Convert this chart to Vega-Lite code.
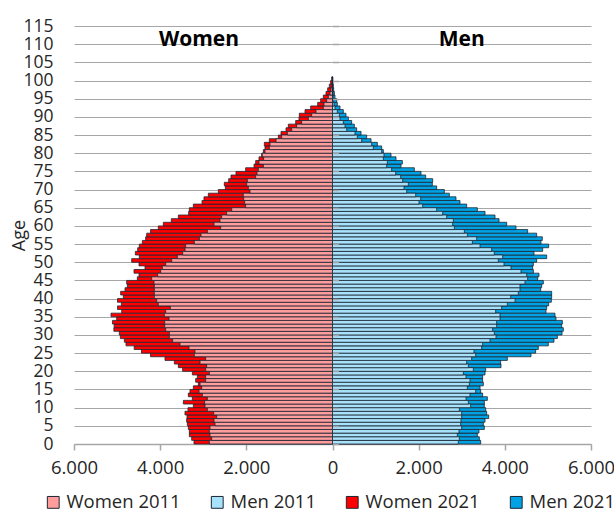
{
 "$schema": "https://vega.github.io/schema/vega-lite/v6.json",
 "width": 517,
 "height": 418,
 "autosize": {"type": "none"},
 "padding": {"left": 74, "top": 26, "right": 23, "bottom": 67},
 "background": "white",
 "config": {
  "view": {"stroke": null},
  "font": "Open Sans",
  "axisY": {"grid": true, "gridColor": "#A6A6A6", "gridWidth": 1.2, "domain": false, "ticks": false, "labelPadding": 21, "labelFontSize": 17.5, "labelColor": "#262626", "labelOverlap": false, "titleFontSize": 18, "titleFontWeight": "normal", "titleColor": "#262626", "titlePadding": -6},
  "axisX": {"grid": false, "domainColor": "#A6A6A6", "domainWidth": 1.5, "tickColor": "#A6A6A6", "tickWidth": 1.5, "tickSize": 6, "labelPadding": 8, "labelFontSize": 18.5, "labelColor": "#262626", "labelFlush": false, "labelOverlap": false}
 },
 "datasets": {
  "pop": [
{"age":0,"series":"Women 2011","value":-2859},{"age":0,"series":"Men 2011","value":2920},{"age":0,"series":"Women 2021","value":-3215},{"age":0,"series":"Men 2021","value":3439},
{"age":1,"series":"Women 2011","value":-2805},{"age":1,"series":"Men 2011","value":2944},{"age":1,"series":"Women 2021","value":-3269},{"age":1,"series":"Men 2021","value":3408},
{"age":2,"series":"Women 2011","value":-2843},{"age":2,"series":"Men 2011","value":2897},{"age":2,"series":"Women 2021","value":-3323},{"age":2,"series":"Men 2021","value":3362},
{"age":3,"series":"Women 2011","value":-2859},{"age":3,"series":"Men 2011","value":2936},{"age":3,"series":"Women 2021","value":-3323},{"age":3,"series":"Men 2021","value":3400},
{"age":4,"series":"Women 2011","value":-2843},{"age":4,"series":"Men 2011","value":2998},{"age":4,"series":"Women 2021","value":-3346},{"age":4,"series":"Men 2021","value":3524},
{"age":5,"series":"Women 2011","value":-2727},{"age":5,"series":"Men 2011","value":2975},{"age":5,"series":"Women 2021","value":-3369},{"age":5,"series":"Men 2021","value":3501},
{"age":6,"series":"Women 2011","value":-2750},{"age":6,"series":"Men 2011","value":2982},{"age":6,"series":"Women 2021","value":-3385},{"age":6,"series":"Men 2021","value":3540},
{"age":7,"series":"Women 2011","value":-2689},{"age":7,"series":"Men 2011","value":2998},{"age":7,"series":"Women 2021","value":-3377},{"age":7,"series":"Men 2021","value":3625},
{"age":8,"series":"Women 2011","value":-2758},{"age":8,"series":"Men 2011","value":2998},{"age":8,"series":"Women 2021","value":-3424},{"age":8,"series":"Men 2021","value":3578},
{"age":9,"series":"Women 2011","value":-2905},{"age":9,"series":"Men 2011","value":2944},{"age":9,"series":"Women 2021","value":-3354},{"age":9,"series":"Men 2021","value":3555},
{"age":10,"series":"Women 2011","value":-2959},{"age":10,"series":"Men 2011","value":3207},{"age":10,"series":"Women 2021","value":-3230},{"age":10,"series":"Men 2021","value":3524},
{"age":11,"series":"Women 2011","value":-2967},{"age":11,"series":"Men 2011","value":3153},{"age":11,"series":"Women 2021","value":-3462},{"age":11,"series":"Men 2021","value":3524},
{"age":12,"series":"Women 2011","value":-2905},{"age":12,"series":"Men 2011","value":3099},{"age":12,"series":"Women 2021","value":-3253},{"age":12,"series":"Men 2021","value":3594},
{"age":13,"series":"Women 2011","value":-3021},{"age":13,"series":"Men 2011","value":3191},{"age":13,"series":"Women 2021","value":-3346},{"age":13,"series":"Men 2021","value":3485},
{"age":14,"series":"Women 2011","value":-3098},{"age":14,"series":"Men 2011","value":3323},{"age":14,"series":"Women 2021","value":-3308},{"age":14,"series":"Men 2021","value":3439},
{"age":15,"series":"Women 2011","value":-3037},{"age":15,"series":"Men 2011","value":3130},{"age":15,"series":"Women 2021","value":-3230},{"age":15,"series":"Men 2021","value":3424},
{"age":16,"series":"Women 2011","value":-3075},{"age":16,"series":"Men 2011","value":3176},{"age":16,"series":"Women 2021","value":-3114},{"age":16,"series":"Men 2021","value":3501},
{"age":17,"series":"Women 2011","value":-2944},{"age":17,"series":"Men 2011","value":3191},{"age":17,"series":"Women 2021","value":-3176},{"age":17,"series":"Men 2021","value":3485},
{"age":18,"series":"Women 2011","value":-2944},{"age":18,"series":"Men 2011","value":3099},{"age":18,"series":"Women 2021","value":-3137},{"age":18,"series":"Men 2021","value":3485},
{"age":19,"series":"Women 2011","value":-2859},{"age":19,"series":"Men 2011","value":3037},{"age":19,"series":"Women 2021","value":-3253},{"age":19,"series":"Men 2021","value":3540},
{"age":20,"series":"Women 2011","value":-2944},{"age":20,"series":"Men 2011","value":3269},{"age":20,"series":"Women 2021","value":-3478},{"age":20,"series":"Men 2021","value":3555},
{"age":21,"series":"Women 2011","value":-2921},{"age":21,"series":"Men 2011","value":3153},{"age":21,"series":"Women 2021","value":-3578},{"age":21,"series":"Men 2021","value":3911},
{"age":22,"series":"Women 2011","value":-3075},{"age":22,"series":"Men 2011","value":3114},{"age":22,"series":"Women 2021","value":-3671},{"age":22,"series":"Men 2021","value":3903},
{"age":23,"series":"Women 2011","value":-2944},{"age":23,"series":"Men 2011","value":3230},{"age":23,"series":"Women 2021","value":-3888},{"age":23,"series":"Men 2021","value":4058},
{"age":24,"series":"Women 2011","value":-3207},{"age":24,"series":"Men 2011","value":3323},{"age":24,"series":"Women 2021","value":-4224},{"age":24,"series":"Men 2021","value":4607},
{"age":25,"series":"Women 2011","value":-3192},{"age":25,"series":"Men 2011","value":3284},{"age":25,"series":"Women 2021","value":-4434},{"age":25,"series":"Men 2021","value":4715},
{"age":26,"series":"Women 2011","value":-3331},{"age":26,"series":"Men 2011","value":3462},{"age":26,"series":"Women 2021","value":-4604},{"age":26,"series":"Men 2021","value":4777},
{"age":27,"series":"Women 2011","value":-3540},{"age":27,"series":"Men 2011","value":3485},{"age":27,"series":"Women 2021","value":-4793},{"age":27,"series":"Men 2021","value":5009},
{"age":28,"series":"Women 2011","value":-3710},{"age":28,"series":"Men 2011","value":3656},{"age":28,"series":"Women 2021","value":-4831},{"age":28,"series":"Men 2021","value":5141},
{"age":29,"series":"Women 2011","value":-3787},{"age":29,"series":"Men 2011","value":3795},{"age":29,"series":"Women 2021","value":-4924},{"age":29,"series":"Men 2021","value":5219},
{"age":30,"series":"Women 2011","value":-3787},{"age":30,"series":"Men 2011","value":3756},{"age":30,"series":"Women 2021","value":-4948},{"age":30,"series":"Men 2021","value":5327},
{"age":31,"series":"Women 2011","value":-3872},{"age":31,"series":"Men 2011","value":3718},{"age":31,"series":"Women 2021","value":-5075},{"age":31,"series":"Men 2021","value":5358},
{"age":32,"series":"Women 2011","value":-3895},{"age":32,"series":"Men 2011","value":3810},{"age":32,"series":"Women 2021","value":-5068},{"age":32,"series":"Men 2021","value":5319},
{"age":33,"series":"Women 2011","value":-3895},{"age":33,"series":"Men 2011","value":3810},{"age":33,"series":"Women 2021","value":-5107},{"age":33,"series":"Men 2021","value":5335},
{"age":34,"series":"Women 2011","value":-3795},{"age":34,"series":"Men 2011","value":3888},{"age":34,"series":"Women 2021","value":-5009},{"age":34,"series":"Men 2021","value":5187},
{"age":35,"series":"Women 2011","value":-3903},{"age":35,"series":"Men 2011","value":3888},{"age":35,"series":"Women 2021","value":-5141},{"age":35,"series":"Men 2021","value":5164},
{"age":36,"series":"Women 2011","value":-3872},{"age":36,"series":"Men 2011","value":3787},{"age":36,"series":"Women 2021","value":-4893},{"age":36,"series":"Men 2021","value":4955},
{"age":37,"series":"Women 2011","value":-3764},{"age":37,"series":"Men 2011","value":3926},{"age":37,"series":"Women 2021","value":-4990},{"age":37,"series":"Men 2021","value":4971},
{"age":38,"series":"Women 2011","value":-4043},{"age":38,"series":"Men 2011","value":4058},{"age":38,"series":"Women 2021","value":-4901},{"age":38,"series":"Men 2021","value":5017},
{"age":39,"series":"Women 2011","value":-4081},{"age":39,"series":"Men 2011","value":4236},{"age":39,"series":"Women 2021","value":-4990},{"age":39,"series":"Men 2021","value":5079},
{"age":40,"series":"Women 2011","value":-4135},{"age":40,"series":"Men 2011","value":4136},{"age":40,"series":"Women 2021","value":-4855},{"age":40,"series":"Men 2021","value":5087},
{"age":41,"series":"Women 2011","value":-4135},{"age":41,"series":"Men 2011","value":4313},{"age":41,"series":"Women 2021","value":-4917},{"age":41,"series":"Men 2021","value":5087},
{"age":42,"series":"Women 2011","value":-4135},{"age":42,"series":"Men 2011","value":4352},{"age":42,"series":"Women 2021","value":-4816},{"age":42,"series":"Men 2021","value":4832},
{"age":43,"series":"Women 2011","value":-4135},{"age":43,"series":"Men 2011","value":4352},{"age":43,"series":"Women 2021","value":-4762},{"age":43,"series":"Men 2021","value":4855},
{"age":44,"series":"Women 2011","value":-4143},{"age":44,"series":"Men 2011","value":4468},{"age":44,"series":"Women 2021","value":-4777},{"age":44,"series":"Men 2021","value":4893},
{"age":45,"series":"Women 2011","value":-4197},{"age":45,"series":"Men 2011","value":4530},{"age":45,"series":"Women 2021","value":-4530},{"age":45,"series":"Men 2021","value":4762},
{"age":46,"series":"Women 2011","value":-4058},{"age":46,"series":"Men 2011","value":4507},{"age":46,"series":"Women 2021","value":-4491},{"age":46,"series":"Men 2021","value":4793},
{"age":47,"series":"Women 2011","value":-3988},{"age":47,"series":"Men 2011","value":4375},{"age":47,"series":"Women 2021","value":-4607},{"age":47,"series":"Men 2021","value":4662},
{"age":48,"series":"Women 2011","value":-3950},{"age":48,"series":"Men 2011","value":4143},{"age":48,"series":"Women 2021","value":-4352},{"age":48,"series":"Men 2021","value":4646},
{"age":49,"series":"Women 2011","value":-3872},{"age":49,"series":"Men 2011","value":3981},{"age":49,"series":"Women 2021","value":-4491},{"age":49,"series":"Men 2021","value":4662},
{"age":50,"series":"Women 2011","value":-3733},{"age":50,"series":"Men 2011","value":3849},{"age":50,"series":"Women 2021","value":-4661},{"age":50,"series":"Men 2021","value":4739},
{"age":51,"series":"Women 2011","value":-3601},{"age":51,"series":"Men 2011","value":3950},{"age":51,"series":"Women 2021","value":-4484},{"age":51,"series":"Men 2021","value":4971},
{"age":52,"series":"Women 2011","value":-3477},{"age":52,"series":"Men 2011","value":3756},{"age":52,"series":"Women 2021","value":-4576},{"age":52,"series":"Men 2021","value":4677},
{"age":53,"series":"Women 2011","value":-3423},{"age":53,"series":"Men 2011","value":3694},{"age":53,"series":"Women 2021","value":-4522},{"age":53,"series":"Men 2021","value":4878},
{"age":54,"series":"Women 2011","value":-3408},{"age":54,"series":"Men 2011","value":3424},{"age":54,"series":"Women 2021","value":-4484},{"age":54,"series":"Men 2021","value":5017},
{"age":55,"series":"Women 2011","value":-3207},{"age":55,"series":"Men 2011","value":3246},{"age":55,"series":"Women 2021","value":-4414},{"age":55,"series":"Men 2021","value":4839},
{"age":56,"series":"Women 2011","value":-3090},{"age":56,"series":"Men 2011","value":3346},{"age":56,"series":"Women 2021","value":-4337},{"age":56,"series":"Men 2021","value":4870},
{"age":57,"series":"Women 2011","value":-3052},{"age":57,"series":"Men 2011","value":3130},{"age":57,"series":"Women 2021","value":-4313},{"age":57,"series":"Men 2021","value":4739},
{"age":58,"series":"Women 2011","value":-2905},{"age":58,"series":"Men 2011","value":3060},{"age":58,"series":"Women 2021","value":-4224},{"age":58,"series":"Men 2021","value":4530},
{"age":59,"series":"Women 2011","value":-2596},{"age":59,"series":"Men 2011","value":2828},{"age":59,"series":"Women 2021","value":-4043},{"age":59,"series":"Men 2021","value":4259},
{"age":60,"series":"Women 2011","value":-2750},{"age":60,"series":"Men 2011","value":2789},{"age":60,"series":"Women 2021","value":-3927},{"age":60,"series":"Men 2021","value":4043},
{"age":61,"series":"Women 2011","value":-2611},{"age":61,"series":"Men 2011","value":2805},{"age":61,"series":"Women 2021","value":-3741},{"age":61,"series":"Men 2021","value":3865},
{"age":62,"series":"Women 2011","value":-2573},{"age":62,"series":"Men 2011","value":2650},{"age":62,"series":"Women 2021","value":-3578},{"age":62,"series":"Men 2021","value":3772},
{"age":63,"series":"Women 2011","value":-2457},{"age":63,"series":"Men 2011","value":2557},{"age":63,"series":"Women 2021","value":-3339},{"age":63,"series":"Men 2021","value":3540},
{"age":64,"series":"Women 2011","value":-2340},{"age":64,"series":"Men 2011","value":2418},{"age":64,"series":"Women 2021","value":-3323},{"age":64,"series":"Men 2021","value":3362},
{"age":65,"series":"Women 2011","value":-2016},{"age":65,"series":"Men 2011","value":2093},{"age":65,"series":"Women 2021","value":-3230},{"age":65,"series":"Men 2021","value":3114},
{"age":66,"series":"Women 2011","value":-2039},{"age":66,"series":"Men 2011","value":2008},{"age":66,"series":"Women 2021","value":-3029},{"age":66,"series":"Men 2021","value":2959},
{"age":67,"series":"Women 2011","value":-2062},{"age":67,"series":"Men 2011","value":2047},{"age":67,"series":"Women 2021","value":-2983},{"age":67,"series":"Men 2021","value":2866},
{"age":68,"series":"Women 2011","value":-2070},{"age":68,"series":"Men 2011","value":1931},{"age":68,"series":"Women 2021","value":-2882},{"age":68,"series":"Men 2021","value":2712},
{"age":69,"series":"Women 2011","value":-1915},{"age":69,"series":"Men 2011","value":1722},{"age":69,"series":"Women 2021","value":-2650},{"age":69,"series":"Men 2021","value":2596},
{"age":70,"series":"Women 2011","value":-1954},{"age":70,"series":"Men 2011","value":1660},{"age":70,"series":"Women 2021","value":-2487},{"age":70,"series":"Men 2021","value":2418},
{"age":71,"series":"Women 2011","value":-1992},{"age":71,"series":"Men 2011","value":1760},{"age":71,"series":"Women 2021","value":-2511},{"age":71,"series":"Men 2021","value":2317},
{"age":72,"series":"Women 2011","value":-1977},{"age":72,"series":"Men 2011","value":1629},{"age":72,"series":"Women 2021","value":-2410},{"age":72,"series":"Men 2021","value":2325},
{"age":73,"series":"Women 2011","value":-1783},{"age":73,"series":"Men 2011","value":1582},{"age":73,"series":"Women 2021","value":-2356},{"age":73,"series":"Men 2021","value":2163},
{"age":74,"series":"Women 2011","value":-1752},{"age":74,"series":"Men 2011","value":1466},{"age":74,"series":"Women 2021","value":-2240},{"age":74,"series":"Men 2021","value":2054},
{"age":75,"series":"Women 2011","value":-1722},{"age":75,"series":"Men 2011","value":1373},{"age":75,"series":"Women 2021","value":-2016},{"age":75,"series":"Men 2021","value":1899},
{"age":76,"series":"Women 2011","value":-1605},{"age":76,"series":"Men 2011","value":1257},{"age":76,"series":"Women 2021","value":-1822},{"age":76,"series":"Men 2021","value":1590},
{"age":77,"series":"Women 2011","value":-1706},{"age":77,"series":"Men 2011","value":1273},{"age":77,"series":"Women 2021","value":-1783},{"age":77,"series":"Men 2021","value":1621},
{"age":78,"series":"Women 2011","value":-1598},{"age":78,"series":"Men 2011","value":1180},{"age":78,"series":"Women 2021","value":-1706},{"age":78,"series":"Men 2021","value":1474},
{"age":79,"series":"Women 2011","value":-1629},{"age":79,"series":"Men 2011","value":1195},{"age":79,"series":"Women 2021","value":-1644},{"age":79,"series":"Men 2021","value":1358},
{"age":80,"series":"Women 2011","value":-1567},{"age":80,"series":"Men 2011","value":1141},{"age":80,"series":"Women 2021","value":-1605},{"age":80,"series":"Men 2021","value":1180},
{"age":81,"series":"Women 2011","value":-1466},{"age":81,"series":"Men 2011","value":948},{"age":81,"series":"Women 2021","value":-1567},{"age":81,"series":"Men 2021","value":1141},
{"age":82,"series":"Women 2011","value":-1451},{"age":82,"series":"Men 2011","value":909},{"age":82,"series":"Women 2021","value":-1582},{"age":82,"series":"Men 2021","value":1041},
{"age":83,"series":"Women 2011","value":-1311},{"age":83,"series":"Men 2011","value":677},{"age":83,"series":"Women 2021","value":-1466},{"age":83,"series":"Men 2021","value":894},
{"age":84,"series":"Women 2011","value":-1180},{"age":84,"series":"Men 2011","value":576},{"age":84,"series":"Women 2021","value":-1257},{"age":84,"series":"Men 2021","value":793},
{"age":85,"series":"Women 2011","value":-1048},{"age":85,"series":"Men 2011","value":522},{"age":85,"series":"Women 2021","value":-1195},{"age":85,"series":"Men 2021","value":662},
{"age":86,"series":"Women 2011","value":-948},{"age":86,"series":"Men 2011","value":329},{"age":86,"series":"Women 2021","value":-1079},{"age":86,"series":"Men 2021","value":561},
{"age":87,"series":"Women 2011","value":-832},{"age":87,"series":"Men 2011","value":290},{"age":87,"series":"Women 2021","value":-1025},{"age":87,"series":"Men 2021","value":507},
{"age":88,"series":"Women 2011","value":-716},{"age":88,"series":"Men 2011","value":251},{"age":88,"series":"Women 2021","value":-855},{"age":88,"series":"Men 2021","value":445},
{"age":89,"series":"Women 2011","value":-561},{"age":89,"series":"Men 2011","value":174},{"age":89,"series":"Women 2021","value":-778},{"age":89,"series":"Men 2021","value":368},
{"age":90,"series":"Women 2011","value":-484},{"age":90,"series":"Men 2011","value":159},{"age":90,"series":"Women 2021","value":-770},{"age":90,"series":"Men 2021","value":313},
{"age":91,"series":"Women 2011","value":-383},{"age":91,"series":"Men 2011","value":112},{"age":91,"series":"Women 2021","value":-638},{"age":91,"series":"Men 2021","value":251},
{"age":92,"series":"Women 2011","value":-213},{"age":92,"series":"Men 2011","value":58},{"age":92,"series":"Women 2021","value":-507},{"age":92,"series":"Men 2021","value":174},
{"age":93,"series":"Women 2011","value":-197},{"age":93,"series":"Men 2011","value":35},{"age":93,"series":"Women 2021","value":-344},{"age":93,"series":"Men 2021","value":112},
{"age":94,"series":"Women 2011","value":-135},{"age":94,"series":"Men 2011","value":19},{"age":94,"series":"Women 2021","value":-275},{"age":94,"series":"Men 2021","value":97},
{"age":95,"series":"Women 2011","value":-97},{"age":95,"series":"Men 2011","value":12},{"age":95,"series":"Women 2021","value":-213},{"age":95,"series":"Men 2021","value":58},
{"age":96,"series":"Women 2011","value":-58},{"age":96,"series":"Men 2011","value":8},{"age":96,"series":"Women 2021","value":-151},{"age":96,"series":"Men 2021","value":43},
{"age":97,"series":"Women 2011","value":-35},{"age":97,"series":"Men 2011","value":4},{"age":97,"series":"Women 2021","value":-112},{"age":97,"series":"Men 2021","value":27},
{"age":98,"series":"Women 2011","value":-19},{"age":98,"series":"Men 2011","value":4},{"age":98,"series":"Women 2021","value":-74},{"age":98,"series":"Men 2021","value":19},
{"age":99,"series":"Women 2011","value":-4},{"age":99,"series":"Men 2011","value":2},{"age":99,"series":"Women 2021","value":-43},{"age":99,"series":"Men 2021","value":12},
{"age":100,"series":"Women 2011","value":-4},{"age":100,"series":"Men 2011","value":2},{"age":100,"series":"Women 2021","value":-19},{"age":100,"series":"Men 2021","value":8}
  ]
 },
 "resolve": {"axis": {"y": "independent"}},
 "layer": [
  {
   "data": {"name": "pop"},
   "transform": [{"filter": "indexof(datum.series, '2021') >= 0"}, {"calculate": "datum.age + 1", "as": "age_top"}],
   "mark": {"type": "rect", "stroke": "#1c2633", "strokeWidth": 0.8},
   "encoding": {
    "x": {"field": "value", "type": "quantitative", "scale": {"domain": [-6000, 6000], "nice": false}, "axis": {"title": null, "values": [-6000, -4000, -2000, 0, 2000, 4000, 6000], "labelExpr": "datum.value == 0 ? '0' : replace(format(abs(datum.value), ','), ',', '.')"}},
    "x2": {"datum": 0},
    "y": {"field": "age", "type": "quantitative", "scale": {"domain": [0, 115], "nice": false}, "axis": {"title": "Age", "values": [0,5,10,15,20,25,30,35,40,45,50,55,60,65,70,75,80,85,90,95,100,105,110,115]}},
    "y2": {"field": "age_top"},
    "color": {"field": "series", "type": "nominal", "scale": {"domain": ["Women 2011", "Men 2011", "Women 2021", "Men 2021"], "range": ["#FF9D9D", "#A8E1FA", "#FF0000", "#00A2E3"]},
     "legend": {"title": null, "orient": "none", "legendX": -30, "legendY": 467, "direction": "horizontal", "columns": 4, "columnPadding": 27, "symbolType": "square", "symbolSize": 140, "symbolStrokeColor": "#1c2633", "symbolStrokeWidth": 1, "labelFontSize": 18.5, "labelColor": "#262626", "labelOffset": 4, "padding": 0}}
   }
  },
  {
   "data": {"name": "pop"},
   "transform": [{"filter": "indexof(datum.series, '2011') >= 0"}, {"calculate": "datum.age + 1", "as": "age_top"}],
   "mark": {"type": "rect", "stroke": "#1c2633", "strokeWidth": 0.8},
   "encoding": {
    "x": {"field": "value", "type": "quantitative", "axis": {"title": null, "values": [-6000, -4000, -2000, 0, 2000, 4000, 6000], "labelExpr": "datum.value == 0 ? '0' : replace(format(abs(datum.value), ','), ',', '.')"}},
    "x2": {"datum": 0},
    "y": {"field": "age", "type": "quantitative", "axis": {"orient": "right", "offset": -258.5, "title": null, "labels": false, "grid": false, "domain": false, "ticks": true, "tickSize": 6, "tickColor": "#A6A6A6", "tickWidth": 1.5, "zindex": 2, "values": [0,5,10,15,20,25,30,35,40,45,50,55,60,65,70,75,80,85,90,95,100,105,110,115]}},
    "y2": {"field": "age_top"},
    "color": {"field": "series", "type": "nominal"}
   }
  },
  {
   "mark": {"type": "rule", "color": "#5f5f5f", "strokeWidth": 2},
   "encoding": {"x": {"datum": 0}}
  },
  {
   "data": {"values": [{"label": "Women", "value": -3100, "age": 109.6}, {"label": "Men", "value": 3000, "age": 109.6}]},
   "mark": {"type": "text", "fontWeight": "bold", "fontSize": 21, "baseline": "alphabetic", "color": "#000000"},
   "encoding": {
    "x": {"field": "value", "type": "quantitative", "axis": {"title": null, "values": [-6000, -4000, -2000, 0, 2000, 4000, 6000], "labelExpr": "datum.value == 0 ? '0' : replace(format(abs(datum.value), ','), ',', '.')"}},
    "y": {"field": "age", "type": "quantitative", "axis": null},
    "text": {"field": "label"}
   }
  }
 ]
}
